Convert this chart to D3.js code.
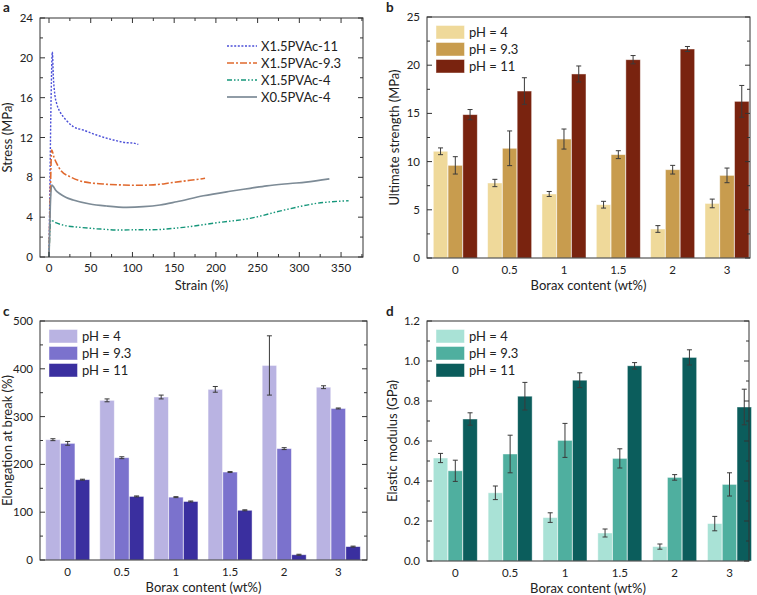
<!DOCTYPE html>
<html><head><meta charset="utf-8">
<script src="https://cdn.jsdelivr.net/npm/d3@7"></script>
<style>
body{margin:0;background:#fff;}
svg{font-family:Lato,"Noto Sans",sans-serif;}
</style></head>
<body><svg id="c" width="757" height="595"></svg>
<script>
// ---------- Panel a data (stress-strain curves) ----------
const curveNames = ["X1.5PVAc-11","X1.5PVAc-9.3","X1.5PVAc-4","X0.5PVAc-4"];
const curve11 = [[0,0],[1.2,8],[2.5,16],[4,20.6],[5.2,18.1],[7,16.3],[9.2,15.4],[13,14.6],[17,14.1],[21,13.7],[29,13.1],[41,12.75],[57,12.25],[77,11.75],[93,11.48],[100,11.45],[107,11.3]];
const curve93 = [[0,0],[1.5,6],[3.2,10.75],[6,10.0],[9.2,9.4],[15,8.6],[25,8.07],[41,7.56],[65,7.33],[89,7.23],[109,7.2],[121,7.23],[133,7.3],[145,7.45],[169,7.7],[187,7.9]];
const curve4 = [[0,0],[1,2.5],[2,3.7],[8,3.45],[17,3.2],[37,2.98],[57,2.84],[85,2.71],[109,2.74],[121,2.73],[161,2.98],[201,3.44],[241,3.88],[281,4.7],[321,5.39],[359,5.65]];
const curve05 = [[0,0],[1.5,5],[3.2,7.23],[5,7.1],[8,6.7],[13,6.35],[20,6.0],[29,5.72],[49,5.32],[69,5.12],[93,4.99],[113,5.05],[133,5.22],[153,5.55],[185,6.15],[217,6.6],[241,6.9],[261,7.15],[289,7.38],[308,7.52],[336,7.85]];
const strainTicks = [0,50,100,150,200,250,300,350];
const stressTicks = [0,4,8,12,16,20,24];

// ---------- Bar panels data ----------
const categories = ["0","0.5","1","1.5","2","3"];
const phLabels = ["pH = 4","pH = 9.3","pH = 11"];

const strength_pH4  = [11.07, 7.78, 6.64, 5.53, 3.01, 5.66];
const strength_pH93 = [9.61, 11.38, 12.34, 10.72, 9.16, 8.57];
const strength_pH11 = [14.87, 17.32, 19.09, 20.57, 21.68, 16.25];
const strengthErr_pH4  = [0.35, 0.38, 0.26, 0.35, 0.35, 0.45];
const strengthErr_pH93 = [0.9, 1.8, 1.04, 0.41, 0.45, 0.76];
const strengthErr_pH11 = [0.53, 1.38, 0.83, 0.43, 0.26, 1.65];
const strengthTicks = [0,5,10,15,20,25];

const elong_pH4  = [251.7, 334, 341, 357, 407, 361.5];
const elong_pH93 = [244, 214, 131.5, 184, 233, 317];
const elong_pH11 = [168, 133, 122.4, 104, 11, 28];
const elongErr_pH4  = [2, 3, 4, 6, 62, 3];
const elongErr_pH93 = [4, 2, 1, 1, 2, 1];
const elongErr_pH11 = [1, 1, 1, 1, 1, 1];
const elongTicks = [0,100,200,300,400,500];

const mod_pH4  = [0.515, 0.341, 0.217, 0.140, 0.072, 0.187];
const mod_pH93 = [0.451, 0.535, 0.603, 0.513, 0.418, 0.383];
const mod_pH11 = [0.710, 0.824, 0.904, 0.976, 1.018, 0.770];
const modErr_pH4  = [0.023, 0.034, 0.024, 0.02, 0.013, 0.036];
const modErr_pH93 = [0.053, 0.094, 0.085, 0.048, 0.014, 0.058];
const modErr_pH11 = [0.031, 0.069, 0.037, 0.016, 0.038, 0.089];
const modTicks = [0,0.2,0.4,0.6,0.8,1.0,1.2];

const svg = d3.select("#c");
const TXT = "#222";
const FS_TICK = 11.5, FS_TITLE = 13, FS_LEG = 13;

function frame(g, x0, y0, x1, y1){
  g.append("rect").attr("x",x0).attr("y",y0).attr("width",x1-x0).attr("height",y1-y0)
   .attr("fill","none").attr("stroke","#333").attr("stroke-width",1);
}
function yTicksInward(g, y, x0, x1, major, minorStep, fmt, rightToo){
  const [d0,d1] = y.domain();
  const minors = d3.range(d0, d1 + 1e-9, minorStep).filter(v => !major.some(m => Math.abs(m-v)<1e-9));
  major.forEach(v=>{
    g.append("line").attr("x1",x0).attr("x2",x0+5).attr("y1",y(v)).attr("y2",y(v)).attr("stroke","#333");
    if(rightToo) g.append("line").attr("x1",x1).attr("x2",x1-5).attr("y1",y(v)).attr("y2",y(v)).attr("stroke","#333");
    g.append("text").attr("x",x0-7).attr("y",y(v)).attr("dy","0.35em").attr("text-anchor","end")
      .attr("font-size",FS_TICK).attr("fill",TXT).text(fmt(v));
  });
  minors.forEach(v=>{
    g.append("line").attr("x1",x0).attr("x2",x0+3).attr("y1",y(v)).attr("y2",y(v)).attr("stroke","#333");
    if(rightToo) g.append("line").attr("x1",x1).attr("x2",x1-3).attr("y1",y(v)).attr("y2",y(v)).attr("stroke","#333");
  });
}

// ---------- Panel a ----------
(function(){
  const L=40,R=363,T=18,B=257;
  const g = svg.append("g");
  const x = d3.scaleLinear().domain([-10.8,376.3]).range([L,R]);
  const y = d3.scaleLinear().domain([0,24]).range([B,T]);
  const styles = [
    {c:"#4b4fd8", dash:"2,1.6", w:1.4},
    {c:"#e0692e", dash:"7,2,2,2", w:1.6},
    {c:"#15967a", dash:"5,2,1.5,2,1.5,2", w:1.4},
    {c:"#7d8b96", dash:null, w:1.7}
  ];
  const curves = [curve11, curve93, curve4, curve05];
  const line = d3.line().x(d=>x(d[0])).y(d=>y(d[1])).curve(d3.curveMonotoneX);
  curves.forEach((c,i)=>{
    g.append("path").attr("d",line(c)).attr("fill","none").attr("stroke",styles[i].c)
      .attr("stroke-width",styles[i].w).attr("stroke-dasharray",styles[i].dash);
  });
  frame(g,L,T,R,B);
  yTicksInward(g, y, L, R, stressTicks, 2, d=>d, true);
  const minorX = d3.range(25,376,50);
  strainTicks.forEach(v=>{
    g.append("line").attr("x1",x(v)).attr("x2",x(v)).attr("y1",B).attr("y2",B-5).attr("stroke","#333");
    g.append("line").attr("x1",x(v)).attr("x2",x(v)).attr("y1",T).attr("y2",T+5).attr("stroke","#333");
    g.append("text").attr("x",x(v)).attr("y",B+15).attr("text-anchor","middle").attr("font-size",FS_TICK).attr("fill",TXT).text(v);
  });
  minorX.forEach(v=>{
    g.append("line").attr("x1",x(v)).attr("x2",x(v)).attr("y1",B).attr("y2",B-3).attr("stroke","#333");
    g.append("line").attr("x1",x(v)).attr("x2",x(v)).attr("y1",T).attr("y2",T+3).attr("stroke","#333");
  });
  g.append("text").attr("x",(L+R)/2).attr("y",290).attr("text-anchor","middle").attr("font-size",FS_TITLE).attr("fill",TXT).text("Strain (%)");
  g.append("text").attr("transform",`translate(12,${(T+B)/2}) rotate(-90)`).attr("text-anchor","middle").attr("font-size",FS_TITLE).attr("fill",TXT).text("Stress (MPa)");
  curveNames.forEach((n,i)=>{
    const ly = 46 + i*17;
    g.append("line").attr("x1",227).attr("x2",257).attr("y1",ly).attr("y2",ly).attr("stroke",styles[i].c)
      .attr("stroke-width",styles[i].w).attr("stroke-dasharray",styles[i].dash);
    g.append("text").attr("x",261).attr("y",ly).attr("dy","0.36em").attr("font-size",FS_LEG).attr("fill",TXT).text(n);
  });
  svg.append("text").attr("x",3).attr("y",12).attr("font-size",13.5).attr("font-weight","bold").attr("fill",TXT).text("a");
})();

// ---------- Bar panel helper ----------
function barPanel(o){
  const g = svg.append("g");
  const {L,R,T,B} = o;
  const x = d3.scalePoint().domain(categories).range([o.c0,o.c1]);
  const sub = d3.scaleBand().domain([0,1,2]).range([-22,22]).paddingInner(0.02);
  const y = d3.scaleLinear().domain(o.domain).range([B,T]);
  o.series.forEach((vals,si)=>{
    vals.forEach((v,ci)=>{
      const xx = x(categories[ci]) + sub(si);
      g.append("rect").attr("x",xx).attr("y",y(v)).attr("width",sub.bandwidth()).attr("height",y(0)-y(v))
        .attr("fill",o.colors[si]).attr("stroke","#ffffff").attr("stroke-opacity",0.55).attr("stroke-width",0.8);
      const e = o.errs[si][ci];
      const cx = xx + sub.bandwidth()/2;
      g.append("line").attr("x1",cx).attr("x2",cx).attr("y1",y(v+e)).attr("y2",y(v-e)).attr("stroke","#3a3a3a").attr("stroke-width",1);
      [v+e, v-e].forEach(t=>{
        g.append("line").attr("x1",cx-2.5).attr("x2",cx+2.5).attr("y1",y(t)).attr("y2",y(t)).attr("stroke","#3a3a3a").attr("stroke-width",1);
      });
    });
  });
  frame(g,L,T,R,B);
  yTicksInward(g, y, L, R, o.ticks, o.minor, o.fmt, true);
  categories.forEach(c=>{
    g.append("text").attr("x",x(c)).attr("y",B+16).attr("text-anchor","middle").attr("font-size",FS_TICK).attr("fill",TXT).text(c);
  });
  g.append("text").attr("x",(L+R)/2).attr("y",B+32).attr("text-anchor","middle").attr("font-size",FS_TITLE).attr("fill",TXT).text("Borax content (wt%)");
  g.append("text").attr("transform",`translate(${o.ylabX},${(T+B)/2}) rotate(-90)`).attr("text-anchor","middle").attr("font-size",FS_TITLE).attr("fill",TXT).text(o.ylabel);
  phLabels.forEach((p,i)=>{
    const sy = T + 8.5 + i*17;
    g.append("rect").attr("x",L+9).attr("y",sy).attr("width",28.5).attr("height",13.5).attr("fill",o.colors[i])
      .attr("stroke","#fff").attr("stroke-opacity",0.55).attr("stroke-width",0.8);
    g.append("text").attr("x",L+42).attr("y",sy+7).attr("dy","0.36em").attr("font-size",FS_LEG).attr("fill",TXT).text(p);
  });
  svg.append("text").attr("x",o.letterX).attr("y",o.letterY).attr("font-size",13.5).attr("font-weight","bold").attr("fill",TXT).text(o.letter);
}

barPanel({L:427,R:750,T:17,B:258,c0:455.3,c1:727,domain:[0,25],ticks:strengthTicks,minor:2.5,fmt:d=>d,
  series:[strength_pH4,strength_pH93,strength_pH11],errs:[strengthErr_pH4,strengthErr_pH93,strengthErr_pH11],
  colors:["#efd99a","#c89c4e","#79230f"],ylabel:"Ultimate strength (MPa)",ylabX:399,letter:"b",letterX:386,letterY:12});

barPanel({L:40,R:367,T:321,B:560,c0:67.7,c1:338.3,domain:[0,500],ticks:elongTicks,minor:50,fmt:d=>d,
  series:[elong_pH4,elong_pH93,elong_pH11],errs:[elongErr_pH4,elongErr_pH93,elongErr_pH11],
  colors:["#b9b3e2","#7b72cd","#3a2f9f"],ylabel:"Elongation at break (%)",ylabX:12,letter:"c",letterX:3,letterY:316});

barPanel({L:427,R:749,T:321,B:561,c0:455.3,c1:729.5,domain:[0,1.2],ticks:modTicks,minor:0.1,fmt:d3.format(".1f"),
  series:[mod_pH4,mod_pH93,mod_pH11],errs:[modErr_pH4,modErr_pH93,modErr_pH11],
  colors:["#a9e2d6","#4faf9f","#0b5d5c"],ylabel:"Elastic modulus (GPa)",ylabX:397,letter:"d",letterX:386,letterY:316});
</script></body></html>
